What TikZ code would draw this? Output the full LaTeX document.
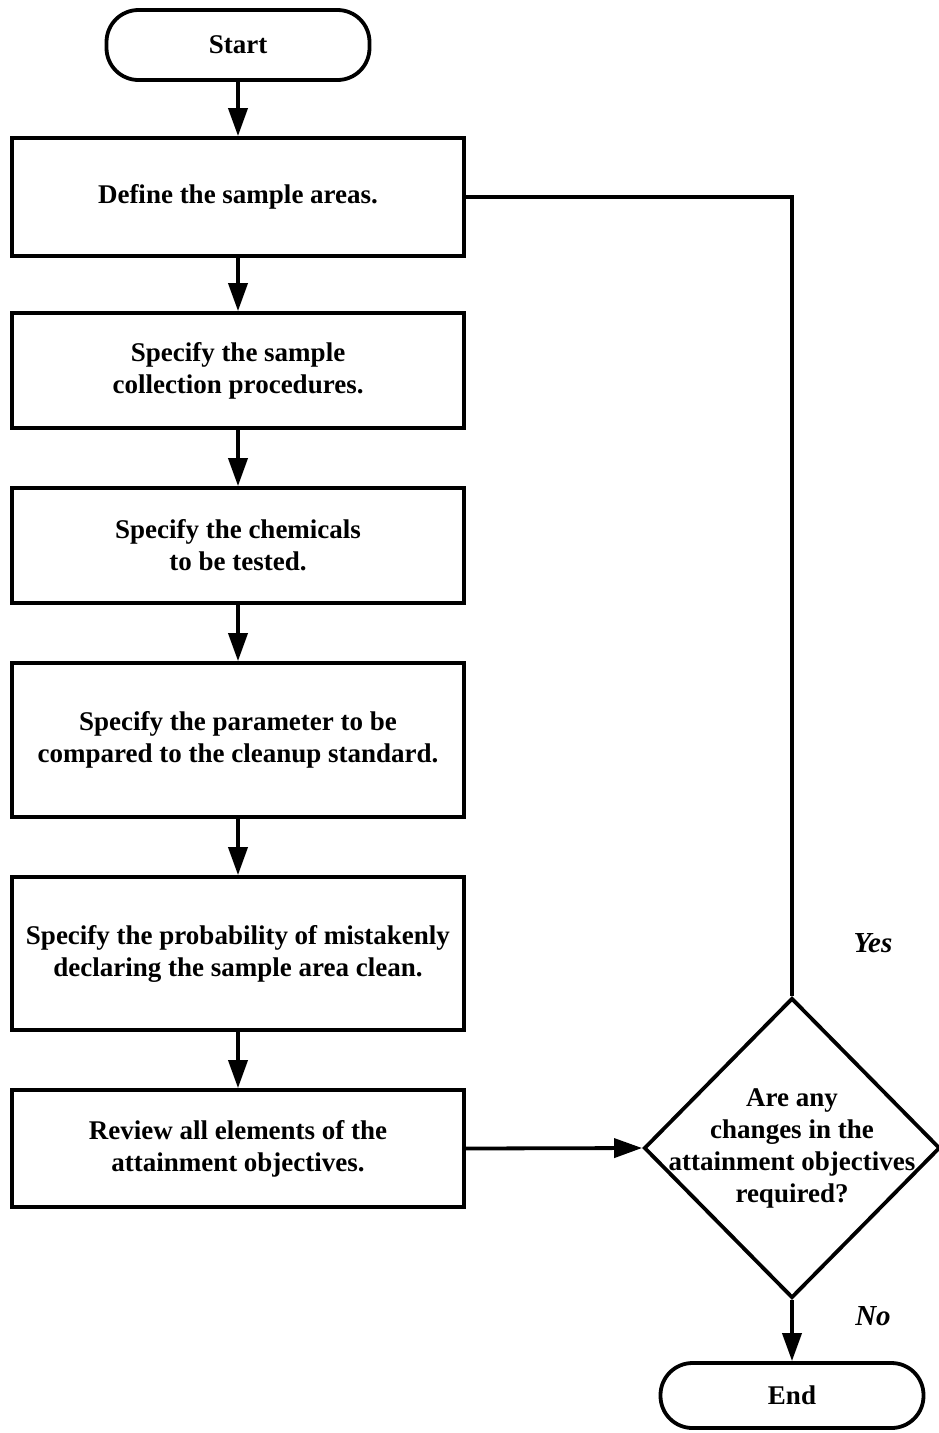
\documentclass[tikz,border=0pt]{standalone}
\usepackage{fontspec}
\setmainfont{Liberation Serif}
\usetikzlibrary{arrows.meta,shapes.geometric}
\begin{document}
\begin{tikzpicture}[x=1pt,y=-1pt,
  line width=3.8pt,
  txt/.style={font=\fontsize{27}{32}\selectfont\bfseries, align=center},
  stepbox/.style={draw, rectangle, minimum width=452pt, inner sep=0pt, txt},
  term/.style={draw, rectangle, rounded corners=32pt, inner sep=0pt, txt},
  flow/.style={-{Triangle[width=19pt,length=28pt]}},
  lab/.style={font=\fontsize{29}{32}\selectfont\bfseries\itshape}]
\useasboundingbox (0,0) rectangle (938,1433);
\node[term, minimum width=263pt, minimum height=70pt] (start) at (238,45) {Start};
\node[stepbox, minimum height=118pt] (b1) at (238,197) {Define the sample areas.};
\node[stepbox, minimum height=115pt] (b2) at (238,370.5) {Specify the sample\\collection procedures.};
\node[stepbox, minimum height=115pt] (b3) at (238,545.5) {Specify the chemicals\\to be tested.};
\node[stepbox, minimum height=154pt] (b4) at (238,740) {Specify the parameter to be\\compared to the cleanup standard.};
\node[stepbox, minimum height=153pt] (b5) at (238,953.5) {Specify the probability of mistakenly\\declaring the sample area clean.};
\node[stepbox, minimum height=117pt] (b6) at (238,1148.5) {Review all elements of the\\attainment objectives.};
\node[draw, diamond, minimum width=296pt, minimum height=300pt, inner sep=0pt] (dec) at (792,1148) {};
\node[txt] (dectext) at (dec.center) {Are any\\changes in the\\attainment objectives\\required?};
\node[term, minimum width=263pt, minimum height=65pt] (end) at (792,1395.5) {End};
\node[lab] (yes) at (873,943) {Yes};
\node[lab] (no) at (873,1316) {No};
\coordinate (corner) at (dec.north |- b1.east);
\draw[flow] (start) -- (b1);
\draw[flow] (b1) -- (b2);
\draw[flow] (b2) -- (b3);
\draw[flow] (b3) -- (b4);
\draw[flow] (b4) -- (b5);
\draw[flow] (b5) -- (b6);
\draw[flow] (b6.east) -- (dec.west);
\draw[flow] (dec.south) -- (end.north);
\draw (b1.east) -- (corner) -- (dec.north);
\end{tikzpicture}
\end{document}
